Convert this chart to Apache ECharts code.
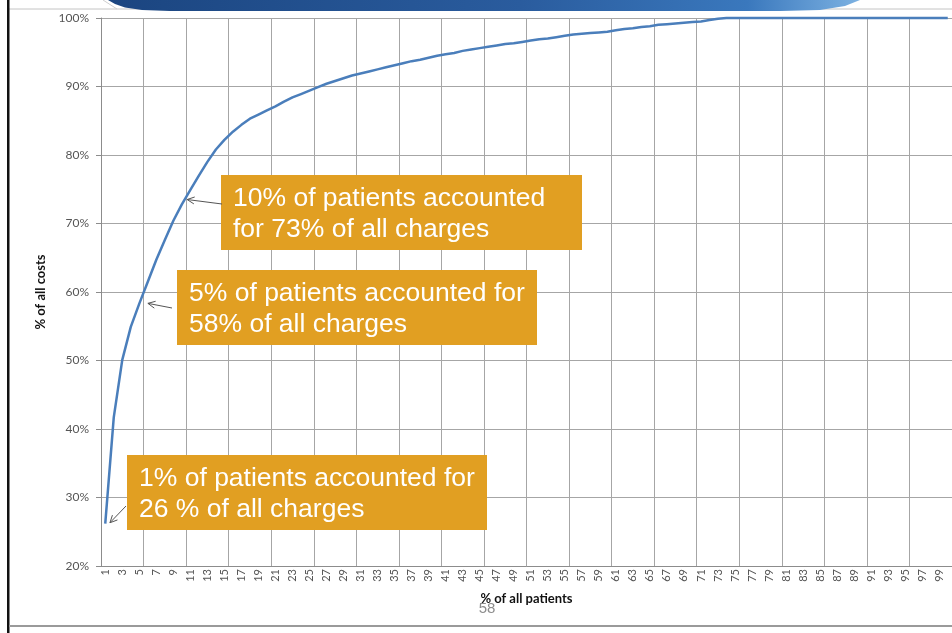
<!DOCTYPE html>
<html>
<head>
<meta charset="utf-8">
<script src="https://cdn.jsdelivr.net/npm/echarts@6/dist/echarts.min.js"></script>
<style>
html,body{margin:0;padding:0;background:#fff;}
#chart{width:952px;height:633px;}
</style>
</head>
<body>
<div id="chart"></div>
<script>
// x轴：患者百分位 1..100
var patientPct = [];
for (var i = 1; i <= 100; i++) { patientPct.push(String(i)); }

// 累计费用占比（%）
var costShare = [
    26.2, 41.7, 50.1, 54.9, 58.3, 61.5, 64.7, 67.6, 70.4, 72.8,
    74.9, 77.0, 79.0, 80.8, 82.2, 83.4, 84.4, 85.3, 85.9, 86.5,
    87.1, 87.8, 88.4, 88.9, 89.4, 89.9, 90.4, 90.8, 91.2, 91.6,
    91.9, 92.2, 92.5, 92.8, 93.1, 93.4, 93.7, 93.9, 94.2, 94.5,
    94.7, 94.9, 95.2, 95.4, 95.6, 95.8, 96.0, 96.2, 96.3, 96.5,
    96.7, 96.9, 97.0, 97.2, 97.4, 97.6, 97.7, 97.8, 97.9, 98.0,
    98.2, 98.4, 98.5, 98.7, 98.8, 99.0, 99.1, 99.2, 99.3, 99.4,
    99.5, 99.7, 99.9, 100, 100, 100, 100, 100, 100, 100,
    100, 100, 100, 100, 100, 100, 100, 100, 100, 100,
    100, 100, 100, 100, 100, 100, 100, 100, 100, 100
];

// y轴范围
var yMin = 20, yMax = 100, yStep = 10;

// 注释文字
var note1 = ["10% of patients accounted", "for 73% of all charges"];
var note2 = ["5% of patients accounted for", "58% of all charges"];
var note3 = ["1% of patients accounted for", "26 % of all charges"];
var noteCats = ["10", "5", "1"];     // 箭头指向的类目
var noteVals = [72.8, 58.3, 26.2];   // 箭头指向的值

var chart = echarts.init(document.getElementById('chart'));

var axisFont = 'Lato, "Open Sans", sans-serif';

chart.setOption({
    animation: false,
    backgroundColor: '#fff',
    grid: { left: 101, top: 18, width: 860, height: 548, containLabel: false },
    xAxis: {
        type: 'category',
        data: patientPct,
        boundaryGap: true,
        name: '% of all patients',
        nameLocation: 'middle',
        nameGap: 26,
        nameTextStyle: { fontFamily: axisFont, fontWeight: 'bold', fontSize: 13, color: '#111' },
        axisLine: { lineStyle: { color: '#8c8c8c', width: 1 } },
        axisTick: { interval: 4, length: 4, lineStyle: { color: '#8c8c8c' } },
        axisLabel: { interval: 1, rotate: 90, margin: 3, fontFamily: axisFont, fontSize: 11, color: '#555' },
        splitLine: { show: true, interval: 4, lineStyle: { color: '#a6a6a6', width: 1 } }
    },
    yAxis: {
        type: 'value',
        min: yMin,
        max: yMax,
        interval: yStep,
        name: '% of all costs',
        nameLocation: 'middle',
        nameGap: 47,
        nameTextStyle: { fontFamily: axisFont, fontWeight: 'bold', fontSize: 13, color: '#111' },
        axisLine: { show: true, lineStyle: { color: '#8c8c8c', width: 1 } },
        axisTick: { show: true, length: 5, lineStyle: { color: '#8c8c8c' } },
        axisLabel: { formatter: '{value}%', margin: 12, fontFamily: axisFont, fontSize: 12, color: '#555' },
        splitLine: { show: true, lineStyle: { color: '#a6a6a6', width: 1 } }
    },
    series: [{
        type: 'line',
        data: costShare,
        showSymbol: false,
        clip: false,
        lineStyle: { color: '#4a7ebb', width: 2.5 },
        z: 5
    }]
});

// 画注释框和箭头
function arrowParts(tail, tip) {
    var ang = Math.atan2(tip[1] - tail[1], tip[0] - tail[0]);
    var L = 8, a = 0.45;
    var p1 = [tip[0] - L * Math.cos(ang - a), tip[1] - L * Math.sin(ang - a)];
    var p2 = [tip[0] - L * Math.cos(ang + a), tip[1] - L * Math.sin(ang + a)];
    return [
        { type: 'line', z: 20, shape: { x1: tail[0], y1: tail[1], x2: tip[0], y2: tip[1] }, style: { stroke: '#555', lineWidth: 1 } },
        { type: 'polyline', z: 20, shape: { points: [p1, tip, p2] }, style: { stroke: '#555', lineWidth: 1, fill: null } }
    ];
}

function noteBox(x, y, w, h, lines) {
    var font = '26.5px "Liberation Sans", Arial, sans-serif';
    return [
        { type: 'rect', z: 20, shape: { x: x, y: y, width: w, height: h }, style: { fill: '#e19f22' } },
        { type: 'text', z: 21, x: x + 12, y: y + 24, style: { text: lines[0], font: font, fill: '#fff', verticalAlign: 'middle' } },
        { type: 'text', z: 21, x: x + 12, y: y + 55, style: { text: lines[1], font: font, fill: '#fff', verticalAlign: 'middle' } }
    ];
}

function tipAt(k, dx, dy) {
    var p = chart.convertToPixel({ seriesIndex: 0 }, [noteCats[k], noteVals[k]]);
    return [p[0] + dx, p[1] + dy];
}

var els = [];
// 幻灯片装饰：顶部横线、蓝色弧条、左侧黑边、底部灰线
els.push({ type: 'line', z: 1, shape: { x1: 9, y1: 9, x2: 952, y2: 9 }, style: { stroke: '#c4c4c4', lineWidth: 1 } });
els.push({ type: 'line', z: 1, shape: { x1: 103, y1: 0, x2: 117, y2: 9 }, style: { stroke: '#cfcfcf', lineWidth: 1 } });
els.push({
    type: 'polygon', z: 2,
    shape: { points: [[108, 0], [115, 4], [125, 7.5], [142, 10], [170, 11], [780, 11], [820, 10], [845, 6], [860, 0]] },
    style: {
        fill: {
            type: 'linear', x: 0, y: 0, x2: 1, y2: 0,
            colorStops: [
                { offset: 0, color: '#1b4580' },
                { offset: 0.55, color: '#2a5c9e' },
                { offset: 0.85, color: '#3a78bd' },
                { offset: 1, color: '#7db2e2' }
            ]
        }
    }
});
els.push({ type: 'rect', z: 30, shape: { x: 7, y: 0, width: 2.5, height: 633 }, style: { fill: '#111' } });
els.push({ type: 'rect', z: 30, shape: { x: 9, y: 625, width: 943, height: 2 }, style: { fill: '#9a9a9a' } });
// 页码
els.push({ type: 'text', z: 30, x: 487, y: 609, style: { text: '58', font: '15px "Liberation Sans", Arial, sans-serif', fill: '#8c8c8c', align: 'center', verticalAlign: 'middle' } });

els = els.concat(noteBox(221, 175, 361, 75, note1));
els = els.concat(noteBox(177, 270, 360, 75, note2));
els = els.concat(noteBox(127, 455, 360, 75, note3));
els = els.concat(arrowParts([222, 204], tipAt(0, 5.3, -4.8)));
els = els.concat(arrowParts([172, 308], tipAt(1, 8.6, -0.3)));
els = els.concat(arrowParts([126, 506], tipAt(2, 4.7, -0.8)));

chart.setOption({ graphic: { elements: els } });
</script>
</body>
</html>
